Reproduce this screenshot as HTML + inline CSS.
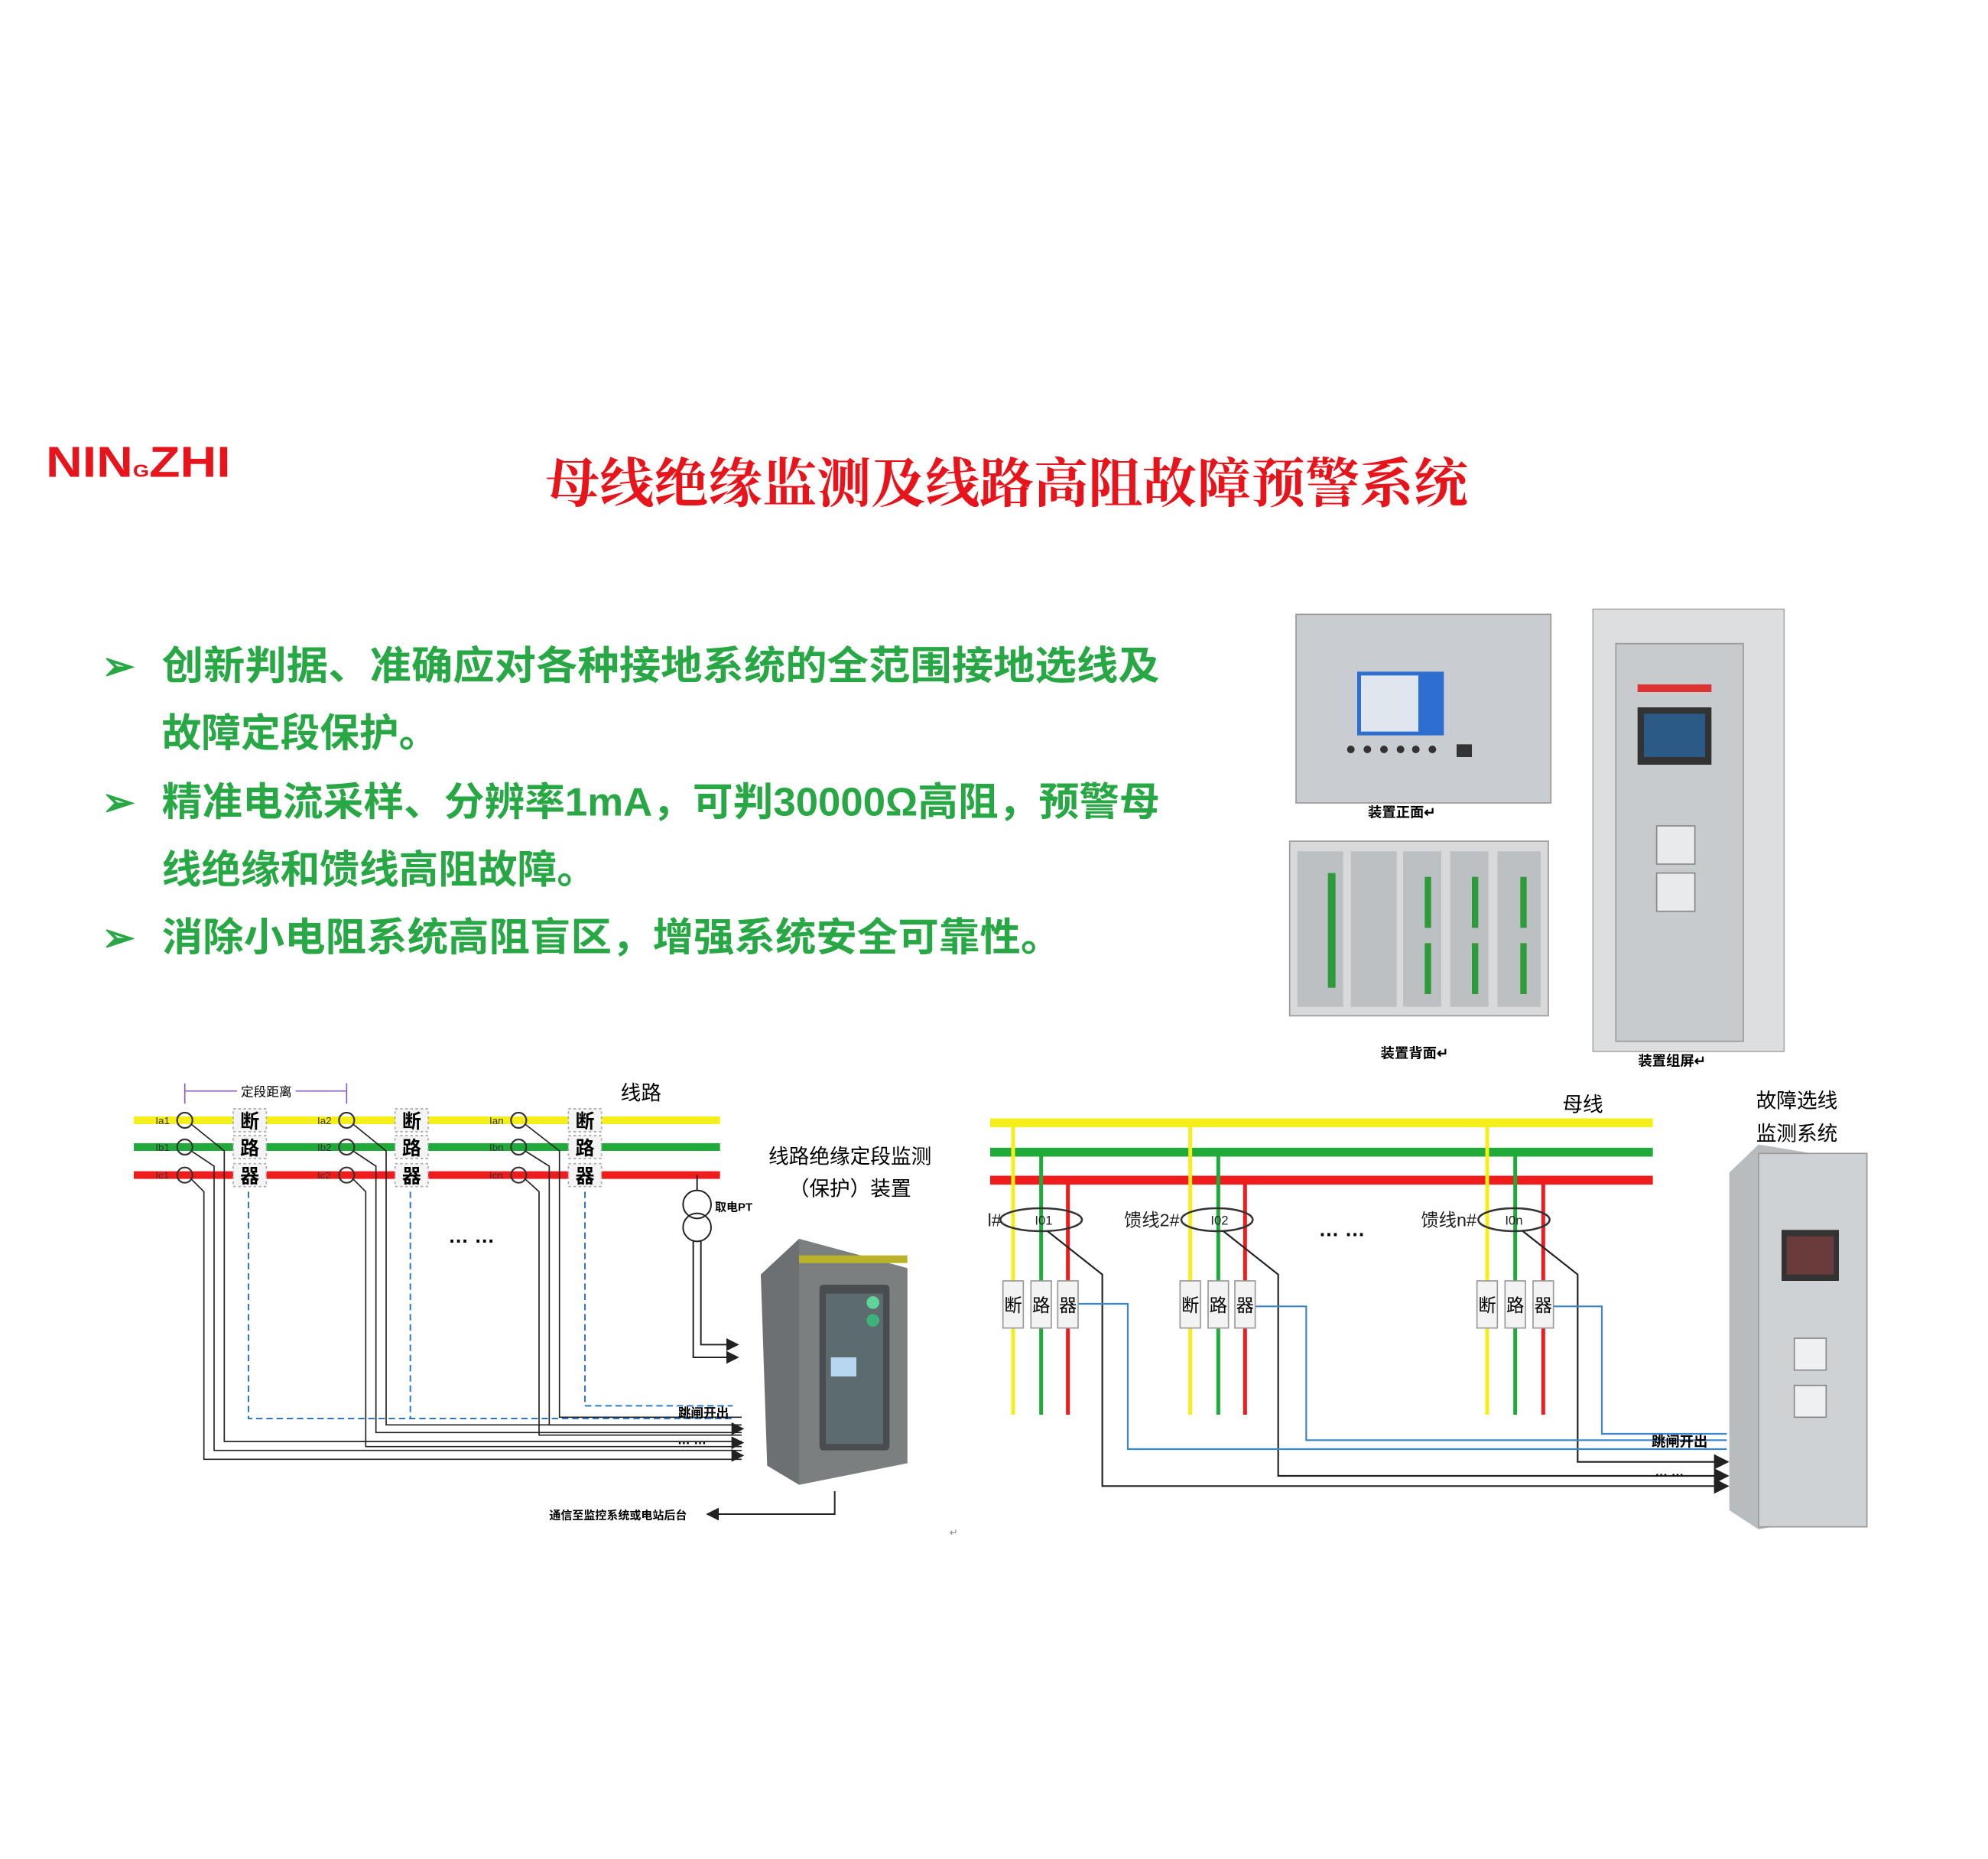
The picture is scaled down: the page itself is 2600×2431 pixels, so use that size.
<!DOCTYPE html>
<html><head><meta charset="utf-8"><style>
html,body{margin:0;padding:0;background:#fff}
svg{display:block}
text{font-family:"Liberation Sans","Noto Sans CJK SC",sans-serif}
.cn{font-family:"Noto Serif CJK SC","Noto Sans CJK SC",serif}
</style></head><body>
<svg width="2600" height="2431" viewBox="0 0 1560 1458.6" xmlns="http://www.w3.org/2000/svg">
<rect width="1560" height="1459" fill="#fff"/>
<!-- logo & title -->
<text x="36" y="374" font-size="34" font-weight="bold" fill="#e8141b" textLength="145" lengthAdjust="spacingAndGlyphs">NIN<tspan font-size="14">G</tspan>ZHI</text>
<text x="790" y="394" font-size="42" font-weight="bold" fill="#e8141b" text-anchor="middle" class="cn" textLength="724" lengthAdjust="spacingAndGlyphs">母线绝缘监测及线路高阻故障预警系统</text>
<!-- bullets -->
<g fill="#27a844" font-size="31" font-weight="bold" class="cn">
<text x="80" y="533">➢</text>
<text x="127" y="533" textLength="783" lengthAdjust="spacingAndGlyphs">创新判据、准确应对各种接地系统的全范围接地选线及</text>
<text x="127" y="586">故障定段保护。</text>
<text x="80" y="640">➢</text>
<text x="127" y="640" textLength="783" lengthAdjust="spacingAndGlyphs">精准电流采样、分辨率1mA，可判30000Ω高阻，预警母</text>
<text x="127" y="693">线绝缘和馈线高阻故障。</text>
<text x="80" y="746">➢</text>
<text x="127" y="746" textLength="706" lengthAdjust="spacingAndGlyphs">消除小电阻系统高阻盲区，增强系统安全可靠性。</text>
</g>
<!-- device front -->
<rect x="1017" y="482" width="200" height="148" fill="#c9ccd0" stroke="#999"/>
<rect x="1065" y="527" width="68" height="50" fill="#2d6fd1"/>
<rect x="1068" y="530" width="45" height="44" fill="#dfe6ee"/>
<g fill="#333"><circle cx="1060" cy="588" r="3"/><circle cx="1073" cy="588" r="3"/><circle cx="1086" cy="588" r="3"/><circle cx="1099" cy="588" r="3"/><circle cx="1111" cy="588" r="3"/><circle cx="1124" cy="588" r="3"/><rect x="1143" y="584" width="12" height="10"/></g>
<text x="1100" y="641" font-size="11" text-anchor="middle" font-weight="bold">装置正面↵</text>
<!-- device back -->
<rect x="1012" y="660" width="203" height="137" fill="#d7d9db" stroke="#999"/>
<g fill="#bdc0c3"><rect x="1018" y="668" width="36" height="122"/><rect x="1060" y="668" width="36" height="122"/><rect x="1101" y="668" width="30" height="122"/><rect x="1138" y="668" width="30" height="122"/><rect x="1175" y="668" width="34" height="122"/></g>
<g fill="#2e9b3a"><rect x="1042" y="685" width="6" height="90"/><rect x="1118" y="688" width="5" height="40"/><rect x="1118" y="740" width="5" height="40"/><rect x="1155" y="688" width="5" height="40"/><rect x="1155" y="740" width="5" height="40"/><rect x="1193" y="688" width="5" height="40"/><rect x="1193" y="740" width="5" height="40"/></g>
<text x="1110" y="830" font-size="11" text-anchor="middle" font-weight="bold">装置背面↵</text>
<!-- cabinet -->
<rect x="1250" y="478" width="150" height="347" fill="#dcdee0" stroke="#aaa"/>
<rect x="1268" y="505" width="100" height="312" fill="#c8cbce" stroke="#999"/>
<rect x="1285" y="555" width="58" height="45" fill="#333"/>
<rect x="1290" y="560" width="48" height="34" fill="#2b5a86"/>
<rect x="1300" y="648" width="30" height="30" fill="#e8eaec" stroke="#888"/>
<rect x="1300" y="685" width="30" height="30" fill="#e8eaec" stroke="#888"/>
<g fill="#d33"><rect x="1285" y="537" width="58" height="6"/></g>
<text x="1312" y="836" font-size="11" text-anchor="middle" font-weight="bold">装置组屏↵</text>

<!-- LEFT DIAGRAM -->
<g stroke-width="6">
<line x1="105" y1="879" x2="565" y2="879" stroke="#f5ee1a"/>
<line x1="105" y1="900" x2="565" y2="900" stroke="#1faa3a"/>
<line x1="105" y1="922" x2="565" y2="922" stroke="#ee1c1c"/>
</g>
<g stroke="#8a5fb8" stroke-width="1" fill="none"><line x1="145" y1="856" x2="272" y2="856"/><line x1="145" y1="850" x2="145" y2="866"/><line x1="272" y1="850" x2="272" y2="866"/></g>
<rect x="186" y="851" width="46" height="10" fill="#fff"/>
<text x="209" y="860" font-size="10" text-anchor="middle">定段距离</text>
<text x="503" y="863" font-size="16" text-anchor="middle">线路</text>
<g font-size="8" fill="#333">
<text x="122" y="882">Ia1</text><text x="122" y="903">Ib1</text><text x="122" y="925">Ic1</text>
<text x="249" y="882">Ia2</text><text x="249" y="903">Ib2</text><text x="249" y="925">Ic2</text>
<text x="384" y="882">Ian</text><text x="384" y="903">Ibn</text><text x="384" y="925">Icn</text>
</g>
<g fill="none" stroke="#333" stroke-width="1.3">
<circle cx="145" cy="879" r="6"/><circle cx="145" cy="900" r="6"/><circle cx="145" cy="922" r="6"/>
<circle cx="272" cy="879" r="6"/><circle cx="272" cy="900" r="6"/><circle cx="272" cy="922" r="6"/>
<circle cx="407" cy="879" r="6"/><circle cx="407" cy="900" r="6"/><circle cx="407" cy="922" r="6"/>
</g>
<g fill="none" stroke="#222" stroke-width="1">
<polyline points="150,882 176,903 176,1131 582,1131"/><polyline points="150,903 168,915 168,1138 582,1138"/><polyline points="150,925 160,935 160,1145 582,1145"/>
<polyline points="277,882 303,903 303,1118 582,1118"/><polyline points="277,903 295,915 295,1124 582,1124"/><polyline points="277,925 287,935 287,1135 582,1135"/>
<polyline points="412,882 439,903 439,1112 582,1112"/><polyline points="412,903 431,915 431,1118 582,1118"/><polyline points="412,925 423,935 423,1126 582,1126"/>
</g>
<g fill="#222"><polygon points="574,1116 584,1121 574,1126"/><polygon points="574,1127 584,1132 574,1137"/><polygon points="574,1137 584,1142 574,1147"/></g>
<g fill="none" stroke="#2f78c4" stroke-width="1.2" stroke-dasharray="5,3">
<polyline points="195,935 195,1113 575,1113"/><polyline points="322,935 322,1113"/><polyline points="459,935 459,1103 575,1103"/>
</g>
<g fill="#f4f4f4" stroke="#aaa" stroke-dasharray="2,2">
<rect x="183" y="870" width="26" height="18"/><rect x="183" y="891" width="26" height="18"/><rect x="183" y="913" width="26" height="18"/>
<rect x="310" y="870" width="26" height="18"/><rect x="310" y="891" width="26" height="18"/><rect x="310" y="913" width="26" height="18"/>
<rect x="446" y="870" width="26" height="18"/><rect x="446" y="891" width="26" height="18"/><rect x="446" y="913" width="26" height="18"/>
</g>
<g font-size="15" text-anchor="middle" font-weight="bold" class="cn">
<text x="196" y="885">断</text><text x="196" y="906">路</text><text x="196" y="928">器</text>
<text x="323" y="885">断</text><text x="323" y="906">路</text><text x="323" y="928">器</text>
<text x="459" y="885">断</text><text x="459" y="906">路</text><text x="459" y="928">器</text>
</g>
<text x="370" y="975" font-size="16" text-anchor="middle" font-weight="bold">… …</text>
<!-- PT -->
<g fill="none" stroke="#222" stroke-width="1.2"><line x1="547" y1="922" x2="547" y2="934"/><circle cx="547" cy="945" r="11"/><circle cx="547" cy="963" r="11"/>
<polyline points="544,974 544,1065 578,1065"/><polyline points="550,974 550,1055 578,1055"/></g>
<g fill="#222"><polygon points="570,1050 580,1055 570,1060"/><polygon points="570,1060 580,1065 570,1070"/></g>
<text x="561" y="950" font-size="9" font-weight="bold">取电PT</text>
<text x="667" y="913" font-size="16" text-anchor="middle">线路绝缘定段监测</text>
<text x="667" y="938" font-size="16" text-anchor="middle">（保护）装置</text>
<text x="552" y="1112" font-size="10" text-anchor="middle" font-weight="bold">跳闸开出</text>
<text x="543" y="1133" font-size="10" text-anchor="middle" font-weight="bold">… …</text>
<!-- field cabinet -->
<polygon points="597,1000 627,972 712,995 712,1148 627,1165 602,1150" fill="#6d7072"/>
<polygon points="627,972 712,995 712,1148 627,1165" fill="#7c7f80"/>
<rect x="643" y="1008" width="55" height="130" rx="3" fill="#4a4d4f"/>
<rect x="648" y="1015" width="45" height="118" fill="#5b6b6e"/>
<circle cx="685" cy="1022" r="5" fill="#5fd39a"/><circle cx="685" cy="1036" r="5" fill="#3fb17a"/>
<rect x="652" y="1065" width="20" height="15" fill="#b7d7f0"/>
<rect x="627" y="985" width="85" height="6" fill="#b9b327"/>
<polyline points="655,1170 655,1188 558,1188" fill="none" stroke="#222" stroke-width="1.2"/>
<polygon points="564,1183 554,1188 564,1193" fill="#222"/>
<text x="485" y="1192" font-size="9" text-anchor="middle" font-weight="bold">通信至监控系统或电站后台</text>
<text x="745" y="1205" font-size="8" fill="#888">↵</text>

<!-- RIGHT DIAGRAM -->
<g stroke-width="7">
<line x1="777" y1="881" x2="1297" y2="881" stroke="#f5ee1a"/>
<line x1="777" y1="904" x2="1297" y2="904" stroke="#1faa3a"/>
<line x1="777" y1="926" x2="1297" y2="926" stroke="#ee1c1c"/>
</g>
<text x="1242" y="872" font-size="16" text-anchor="middle">母线</text>
<text x="1410" y="869" font-size="16" text-anchor="middle">故障选线</text>
<text x="1410" y="895" font-size="16" text-anchor="middle">监测系统</text>
<g stroke-width="3">
<line x1="795" y1="881" x2="795" y2="1110" stroke="#f5ee1a"/><line x1="817" y1="904" x2="817" y2="1110" stroke="#1faa3a"/><line x1="838" y1="926" x2="838" y2="1110" stroke="#ee1c1c"/>
<line x1="934" y1="881" x2="934" y2="1110" stroke="#f5ee1a"/><line x1="956" y1="904" x2="956" y2="1110" stroke="#1faa3a"/><line x1="977" y1="926" x2="977" y2="1110" stroke="#ee1c1c"/>
<line x1="1167" y1="881" x2="1167" y2="1110" stroke="#f5ee1a"/><line x1="1189" y1="904" x2="1189" y2="1110" stroke="#1faa3a"/><line x1="1211" y1="926" x2="1211" y2="1110" stroke="#ee1c1c"/>
</g>
<g fill="none" stroke="#333" stroke-width="1.5">
<ellipse cx="817" cy="957" rx="32" ry="9"/><ellipse cx="955" cy="957" rx="28" ry="9"/><ellipse cx="1188" cy="957" rx="28" ry="9"/>
</g>
<g font-size="10" fill="#222"><text x="812" y="961">I01</text><text x="950" y="961">I02</text><text x="1181" y="961">I0n</text></g>
<g font-size="14" fill="#222"><text x="775" y="962">l#</text><text x="882" y="962">馈线2#</text><text x="1115" y="962">馈线n#</text></g>
<text x="1053" y="970" font-size="16" text-anchor="middle" font-weight="bold">… …</text>
<g fill="none" stroke="#222" stroke-width="1.3">
<polyline points="822,966 865,1000 865,1166 1355,1166"/><polyline points="960,966 1003,1000 1003,1158 1355,1158"/><polyline points="1195,966 1238,1000 1238,1147 1355,1147"/>
</g>
<g fill="#222"><polygon points="1345,1141 1357,1147 1345,1153"/><polygon points="1345,1152 1357,1158 1345,1164"/><polygon points="1345,1160 1357,1166 1345,1172"/></g>
<g fill="none" stroke="#3a86cc" stroke-width="1.3">
<polyline points="846,1023 885,1023 885,1137 1355,1137"/><polyline points="985,1025 1025,1025 1025,1130 1355,1130"/><polyline points="1219,1025 1257,1025 1257,1125 1355,1125"/>
</g>
<g fill="#f3f3f3" stroke="#999">
<rect x="787" y="1005" width="16" height="37"/><rect x="809" y="1005" width="16" height="37"/><rect x="830" y="1005" width="16" height="37"/>
<rect x="926" y="1005" width="16" height="37"/><rect x="948" y="1005" width="16" height="37"/><rect x="969" y="1005" width="16" height="37"/>
<rect x="1159" y="1005" width="16" height="37"/><rect x="1181" y="1005" width="16" height="37"/><rect x="1203" y="1005" width="16" height="37"/>
</g>
<g font-size="14" text-anchor="middle" class="cn">
<text x="795" y="1029">断</text><text x="817" y="1029">路</text><text x="838" y="1029">器</text>
<text x="934" y="1029">断</text><text x="956" y="1029">路</text><text x="977" y="1029">器</text>
<text x="1167" y="1029">断</text><text x="1189" y="1029">路</text><text x="1211" y="1029">器</text>
</g>
<text x="1318" y="1135" font-size="11" text-anchor="middle" font-weight="bold">跳闸开出</text>
<text x="1310" y="1158" font-size="10" text-anchor="middle" font-weight="bold">… …</text>
<!-- right cabinet -->
<polygon points="1357,920 1380,898 1465,912 1465,1185 1380,1200 1357,1185" fill="#b9bcbf"/>
<rect x="1380" y="905" width="85" height="293" fill="#cfd2d5" stroke="#999"/>
<rect x="1398" y="965" width="45" height="40" fill="#333"/>
<rect x="1402" y="970" width="37" height="30" fill="#6a3b3b"/>
<rect x="1408" y="1050" width="25" height="25" fill="#eef0f2" stroke="#888"/>
<rect x="1408" y="1087" width="25" height="25" fill="#eef0f2" stroke="#888"/>
</svg>
</body></html>
